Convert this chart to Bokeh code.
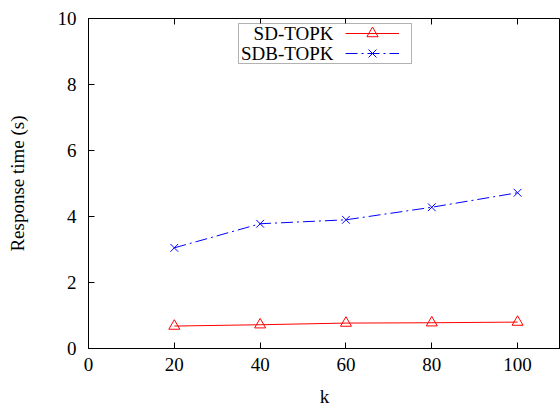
from bokeh.plotting import figure
from bokeh.models import Range1d, LinearAxis, FixedTicker, Legend, LegendItem, Label, BoxAnnotation
from bokeh.embed import file_html
from bokeh.resources import INLINE

k = [20, 40, 60, 80, 100]
sd_topk = [0.68, 0.72, 0.77, 0.78, 0.80]
sdb_topk = [3.05, 3.78, 3.90, 4.28, 4.72]
x_ticks = [0, 20, 40, 60, 80, 100]
y_ticks = [0, 2, 4, 6, 8, 10]
series_names = ["SD-TOPK", "SDB-TOPK"]

FONT = "Liberation Serif"
FS = "19px"

p = figure(width=560, height=410, output_backend="svg", toolbar_location=None,
           x_range=Range1d(0, 110), y_range=Range1d(0, 10),
           min_border_left=88, min_border_right=0, min_border_top=18, min_border_bottom=62,
           frame_width=472, frame_height=330)
p.grid.visible = False
p.outline_line_color = "black"
p.outline_line_width = 1
p.background_fill_color = "white"
p.border_fill_color = "white"

for ax in (p.xaxis[0], p.yaxis[0]):
    ax.major_tick_in = 6
    ax.major_tick_out = 0
    ax.minor_tick_line_color = None
    ax.axis_line_color = "black"
    ax.major_label_text_font = FONT
    ax.major_label_text_font_size = FS
    ax.major_label_text_color = "black"
    ax.axis_label_text_font = FONT
    ax.axis_label_text_font_size = FS
    ax.axis_label_text_font_style = "normal"
    ax.axis_label_text_color = "black"

p.xaxis.ticker = FixedTicker(ticks=x_ticks)
p.yaxis.ticker = FixedTicker(ticks=y_ticks)
p.xaxis.axis_label = "k"
p.yaxis.axis_label = "Response time (s)"
p.xaxis.major_label_standoff = 9
p.yaxis.major_label_standoff = 12
p.xaxis.axis_label_standoff = 12
p.yaxis.axis_label_standoff = 27

# mirror ticks on top
top = LinearAxis(ticker=FixedTicker(ticks=x_ticks), major_tick_in=6, major_tick_out=0,
                 minor_tick_line_color=None, axis_line_color=None,
                 major_label_text_font_size="0px", major_label_standoff=0)
p.add_layout(top, "above")

r1 = p.line(k, sd_topk, line_color="red", line_width=1)
m1 = p.scatter(k, sd_topk, marker="triangle", size=11, fill_color=None, line_color="red", line_width=1)
r2 = p.line(k, sdb_topk, line_color="blue", line_width=1, line_dash="12 4 2 4")
m2 = p.scatter(k, sdb_topk, marker="x", size=11, line_color="blue", line_width=1)

# gnuplot-style key: box, right-aligned text, sample on the right
box = BoxAnnotation(left=150, right=323, top=325, bottom=285,
                    left_units="screen", right_units="screen", top_units="screen", bottom_units="screen",
                    fill_color="white", fill_alpha=1, line_color="black", line_width=1, level="overlay")
p.add_layout(box)

row_y = [315, 295]
for name, ypos, rs in zip(series_names, row_y, [[r1, m1], [r2, m2]]):
    p.add_layout(Label(x=245, y=ypos, x_units="screen", y_units="screen", text=name,
                       text_font=FONT, text_font_size=FS, text_align="right",
                       text_baseline="middle", text_color="black", level="overlay"))
    lg = Legend(items=[LegendItem(label=" ", renderers=rs)],
                location=(257, ypos - 14), orientation="vertical")
    lg.label_text_font_size = "1px"
    lg.label_standoff = 0
    lg.label_width = 0
    lg.label_height = 28
    lg.glyph_height = 28
    lg.glyph_width = 54
    lg.spacing = 0
    lg.padding = 0
    lg.margin = 0
    lg.border_line_color = None
    lg.background_fill_alpha = 0
    p.add_layout(lg)

open("out.html", "w").write(file_html(p, INLINE))
